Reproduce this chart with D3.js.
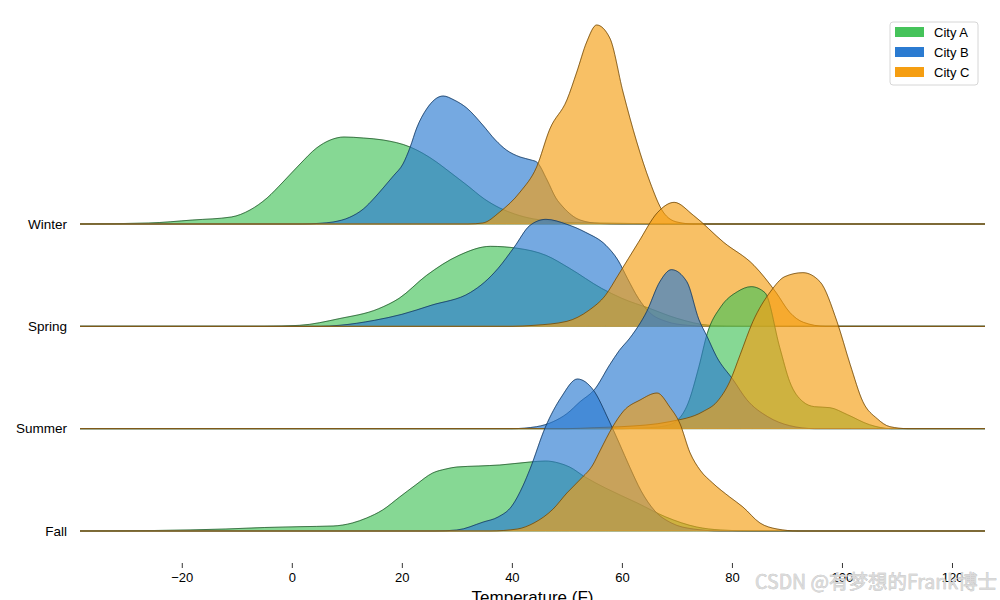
<!DOCTYPE html>
<html>
<head>
<meta charset="utf-8">
<script src="https://cdn.jsdelivr.net/npm/d3@7"></script>
<style>
  html, body { margin: 0; padding: 0; background: #fff; }
  svg { display: block; font-family: "Liberation Sans", Arial, sans-serif; }
</style>
</head>
<body>
<svg id="chart" width="1000" height="600"></svg>
<script>
// ---------- data (temperature °F, density in % per °F) ----------
const seasons = ["Winter", "Spring", "Summer", "Fall"];
const cities = ["City A", "City B", "City C"];
const xTicks = [-20, 0, 20, 40, 60, 80, 100, 120];

const winterCityA = [[-26,0.03],[-18,0.12],[-11,0.21],[-7.6,0.42],[-4.5,0.78],[-1.6,1.26],[1.5,1.8],[4.5,2.28],[7,2.52],[9.5,2.61],[13,2.58],[16.6,2.52],[21.5,2.31],[26.3,1.86],[28,1.65],[31.8,1.17],[35,0.75],[37.8,0.48],[40.5,0.3],[44,0.15],[47,0.09],[50,0.045],[55,0.03],[62,0.015],[72,0]];
const winterCityB = [[2,0],[5,0.02],[7.5,0.06],[10.5,0.2],[13,0.45],[15,0.78],[16.6,1.08],[18.5,1.45],[20.2,1.8],[21.5,2.3],[22.7,2.88],[24.5,3.45],[27.5,3.84],[29.5,3.72],[31.8,3.48],[34.7,2.97],[37,2.52],[39,2.22],[41.5,2.01],[43.5,1.92],[44.5,1.86],[46.4,1.32],[48,0.78],[49.3,0.51],[52.4,0.12],[56,0.015],[60,0]];
const winterCityC = [[32,0],[34.7,0.03],[37.8,0.36],[41.5,0.96],[44.5,1.71],[46.9,2.85],[50,3.72],[51.8,4.56],[53.6,5.46],[55.4,5.97],[57.8,5.58],[60.2,3.96],[62.7,2.46],[65.1,1.26],[67.5,0.36],[70,0.06],[73,0]];

const springCityA = [[-5,0],[1.4,0.03],[8.6,0.23],[15.8,0.53],[19.5,0.84],[24.5,1.53],[30.4,2.13],[36.1,2.4],[41.1,2.34],[46.2,2.13],[50.5,1.74],[56.3,1.14],[60,0.84],[65,0.54],[70,0.24],[76,0.03],[82,0]];
const springCityB = [[5,0],[8.6,0.03],[15,0.18],[20,0.36],[25.3,0.63],[32.5,1.02],[35,1.32],[37.5,1.74],[40.4,2.37],[43.3,3.03],[46.2,3.21],[50,3.06],[53.4,2.82],[57.1,2.43],[59.3,1.98],[61,1.44],[63,0.84],[65,0.42],[68,0.15],[72,0.03],[76,0]];
const springCityC = [[40,0],[44,0.03],[50,0.15],[54,0.48],[57,0.93],[59.3,1.53],[63,2.52],[66.5,3.42],[69.5,3.72],[73,3.33],[78.5,2.52],[84,1.83],[88,1.02],[90.5,0.42],[93,0.12],[97,0]];

const summerCityA = [[60,0],[65,0.03],[68,0.09],[70,0.24],[72,0.75],[74,1.86],[75.5,2.85],[78,3.66],[81,4.11],[83.5,4.26],[86,4.08],[88.7,2.43],[90.5,1.41],[92.9,0.81],[95,0.66],[97.8,0.63],[101,0.42],[105,0.12],[109,0]];
const summerCityB = [[40,0],[44.5,0.06],[47.5,0.21],[50,0.45],[52.4,0.81],[55,1.17],[57.8,1.92],[59.5,2.34],[61.5,2.73],[64.5,3.51],[66.9,4.41],[69,4.77],[71.8,4.41],[74,3.27],[75.5,2.76],[77.2,2.16],[80.2,1.47],[82.7,0.87],[86.5,0.36],[90.5,0.09],[95,0]];
const summerCityC = [[50,0],[55,0.03],[60,0.06],[68.7,0.21],[74.7,0.51],[77.3,0.81],[79.6,1.41],[81.5,2.22],[83.8,3.21],[87,4.11],[89.6,4.56],[92.9,4.68],[96,4.41],[99.1,3.21],[101.5,1.92],[103.8,0.81],[106.4,0.3],[108.7,0.06],[112,0]];

const fallCityA = [[-25,0.015],[-12,0.06],[-5,0.105],[1.5,0.13],[7.5,0.15],[11,0.24],[13.6,0.39],[16.5,0.63],[19.6,1.02],[22.5,1.38],[25.6,1.74],[28,1.86],[30,1.92],[34,1.95],[37.8,1.98],[43.3,2.07],[46.1,2.1],[48.5,2.04],[50.5,1.92],[53.3,1.62],[57,1.29],[62.8,0.84],[68,0.42],[73.6,0.12],[78,0.03],[84,0]];
const fallCityB = [[26,0],[30,0.03],[34.8,0.27],[37.5,0.42],[40,0.75],[42,1.35],[43.3,1.86],[46.1,3.12],[49,4.02],[51.9,4.56],[54.8,4.23],[57.6,3.33],[59.5,2.64],[61.5,1.89],[63.5,1.2],[66,0.6],[69,0.24],[73,0.06],[78,0]];
const fallCityC = [[36,0],[41,0.06],[44,0.24],[47.5,0.66],[50,1.14],[52.5,1.56],[54.7,1.98],[56,2.4],[58.3,3.12],[60.3,3.6],[63.3,3.93],[66.4,4.14],[68.7,3.72],[70.5,3.24],[72.4,2.34],[74.2,1.83],[76.5,1.44],[79.6,1.02],[82,0.72],[85.1,0.24],[88.2,0.06],[92,0]];

const seriesBySeason = {
  Winter: [winterCityA, winterCityB, winterCityC],
  Spring: [springCityA, springCityB, springCityC],
  Summer: [summerCityA, summerCityB, summerCityC],
  Fall:   [fallCityA, fallCityB, fallCityC]
};

// ---------- styles ----------
const colors = ["#45c35a", "#2b7bd1", "#f59e12"];
const fillAlpha = 0.65;

// ---------- scales ----------
const svg = d3.select("#chart");
const xDomain = [-38.5, 126];
const x = d3.scaleLinear().domain(xDomain).range([80, 985]);
const row = d3.scalePoint().domain(seasons).range([224, 531]);
const h = d3.scaleLinear().domain([0, 6]).range([0, 200]);

const area = d3.area()
  .x(d => x(d[0])).y0(0).y1(d => -h(d[1]))
  .curve(d3.curveMonotoneX);
const line = d3.line()
  .x(d => x(d[0])).y(d => -h(d[1]))
  .curve(d3.curveMonotoneX);

function padded(data) {
  const pts = data.slice();
  if (pts[0][0] > xDomain[0]) pts.unshift([xDomain[0], 0]);
  if (pts[pts.length - 1][0] < xDomain[1]) pts.push([xDomain[1], 0]);
  return pts;
}

// ---------- ridges ----------
seasons.forEach(season => {
  const g = svg.append("g").attr("transform", `translate(0,${row(season)})`);
  seriesBySeason[season].forEach((data, i) => {
    const pts = padded(data);
    g.append("path")
      .attr("d", area(pts))
      .attr("fill", colors[i])
      .attr("fill-opacity", fillAlpha)
      .attr("stroke", colors[i])
      .attr("stroke-opacity", fillAlpha)
      .attr("stroke-width", 1);
    g.append("path")
      .attr("d", line(pts))
      .attr("fill", "none")
      .attr("stroke", "#000")
      .attr("stroke-opacity", 0.55)
      .attr("stroke-width", 0.8);
  });
});

// ---------- season labels ----------
svg.append("g").selectAll("text")
  .data(seasons).join("text")
  .attr("x", 67)
  .attr("y", d => row(d))
  .attr("dy", "0.35em")
  .attr("text-anchor", "end")
  .attr("font-size", 13.5)
  .attr("fill", "#000")
  .text(d => d);

// ---------- x axis ----------
const axis = svg.append("g")
  .attr("transform", "translate(0,563)")
  .call(d3.axisBottom(x)
    .tickValues(xTicks)
    .tickSize(5)
    .tickPadding(5)
    .tickFormat(d => d < 0 ? "\u2212" + Math.abs(d) : String(d)));
axis.select(".domain").remove();
axis.selectAll(".tick line").attr("stroke", "#000").attr("stroke-width", 0.8);
axis.selectAll(".tick text")
  .attr("font-size", 13)
  .attr("font-family", "'Liberation Sans', Arial, sans-serif")
  .attr("fill", "#000");

svg.append("text")
  .attr("x", x((xDomain[0] + xDomain[1]) / 2))
  .attr("y", 603)
  .attr("text-anchor", "middle")
  .attr("font-size", 17)
  .attr("fill", "#000")
  .text("Temperature (F)");

// ---------- legend ----------
const legend = svg.append("g").attr("transform", "translate(890,22)");
legend.append("rect")
  .attr("width", 88).attr("height", 63)
  .attr("rx", 3).attr("ry", 3)
  .attr("fill", "#fff").attr("fill-opacity", 0.8)
  .attr("stroke", "#d6d6d6").attr("stroke-width", 1);
cities.forEach((c, i) => {
  const ly = 10 + i * 20;
  legend.append("rect")
    .attr("x", 5).attr("y", ly - 5)
    .attr("width", 29).attr("height", 10)
    .attr("fill", colors[i]);
  legend.append("text")
    .attr("x", 44).attr("y", ly)
    .attr("dy", "0.35em")
    .attr("font-size", 13)
    .attr("fill", "#000")
    .text(c);
});

// ---------- watermark ----------
svg.append("text")
  .attr("x", 997).attr("y", 589)
  .attr("text-anchor", "end")
  .attr("font-family", "'Noto Sans CJK SC', 'Liberation Sans', sans-serif")
  .attr("font-size", 19.5)
  .attr("fill", "#dadada")
  .attr("stroke", "#b2b2b2")
  .attr("stroke-width", 0.5)
  .attr("paint-order", "stroke")
  .text("CSDN @有梦想的Frank博士");
</script>
</body>
</html>
